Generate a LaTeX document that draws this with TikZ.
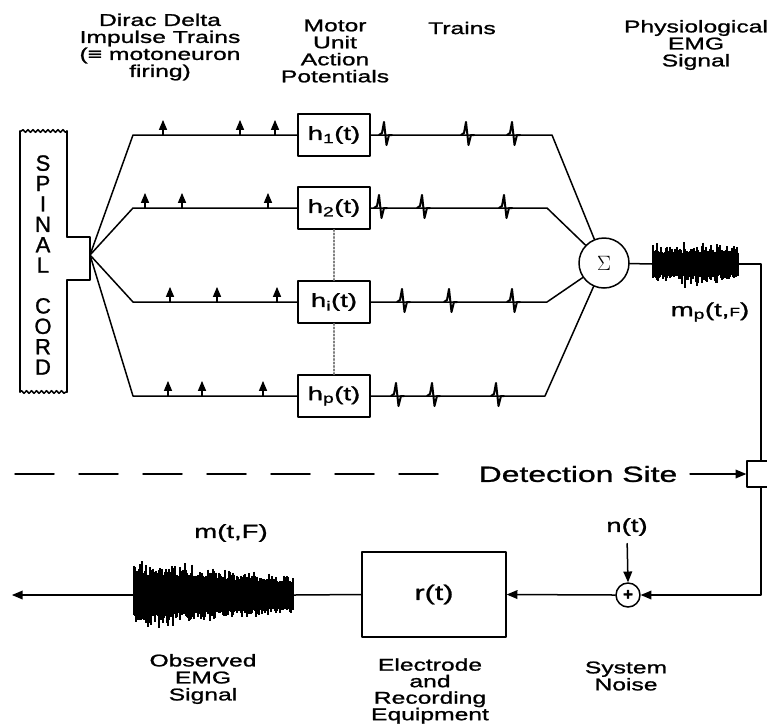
\documentclass[tikz,border=0pt]{standalone}
\usepackage{fontspec}
\setmainfont[FakeBold=1.2]{Liberation Sans}
\newfontfamily\lblfont[FakeStretch=1.45,FakeBold=1.2]{Liberation Sans}
\usepackage{tikz}
\usetikzlibrary{arrows,decorations.pathmorphing}

% one motor unit action potential on a train line
\newcommand{\muap}[2]{\draw[line width=2pt] (#1-6,#2) -- (#1-3,#2-2) -- (#1-1,#2-13) -- (#1+1.5,#2+10) -- (#1+4,#2) -- (#1+7,#2);}

\begin{document}
\begin{tikzpicture}[line cap=round,line join=round,>=triangle 45,x=1pt,y=-1pt,line width=1.5pt,
    lbl/.style={font=\lblfont\fontsize{17}{17}\selectfont,align=center,inner sep=0pt},
    filt/.style={draw,minimum width=72pt,minimum height=42pt,inner sep=0pt,font=\lblfont\fontsize{19}{19}\selectfont},
    burst/.style={minimum width=#1,inner sep=0pt},
    wavy/.style={decorate,decoration={snake,amplitude=1.3pt,segment length=5pt}},
    impulse/.style={->,line width=1.3pt}]
  \useasboundingbox (0,0) rectangle (767,724);
  \clip (0,0) rectangle (767,724);

  % spinal cord
  \draw (67,237) -- (67,131);
  \draw[wavy] (67,131) -- (20,131);
  \draw (20,131) -- (20,392);
  \draw[wavy] (20,392) -- (67,392);
  \draw (67,392) -- (67,280) -- (90,280) -- (90,237) -- (67,237);
  \node[align=center,font=\fontsize{22}{20.4}\selectfont] (cord) at (43,265) {S\\P\\I\\N\\A\\L\\[20.4pt]C\\O\\R\\D};
  \coordinate (fork) at (90,255);

  % summing point
  \node[draw,circle,minimum size=50pt,inner sep=0pt,font=\fontsize{20}{20}\selectfont] (sigma) at (604,263) {$\Sigma$};

  % the motor unit channels
  \foreach \n/\y/\e in {1/135/552, 2/208/547, i/302/547, p/396/545}{
    \node[filt] (h\n) at (334,\y) {h\textsubscript{\n}(t)};
    \draw (fork) -- (133,\y) -- (h\n.west);
    \draw (h\n.east) -- (\e,\y) -- (sigma);
  }
  \draw[dotted,gray,line width=1.5pt] (h2.south) -- (hi.north);
  \draw[dotted,gray,line width=1.5pt] (hi.south) -- (hp.north);

  % firing impulses
  \foreach \x/\y in {163/135,240/135,275/135, 145/208,182/208,268/208,
                     170/302,217/302,277/302, 168/396,202/396,263/396}
    \draw[impulse] (\x,\y) -- (\x,\y-15);

  % action potential trains
  \foreach \x/\y in {385/135,467/135,513/135, 380/208,423/208,505/208,
                     403/302,450/302,513/302, 397/396,433/396,497/396}
    \muap{\x}{\y};

  % physiological EMG signal
  \node[burst=85pt,minimum height=45pt] (phys) at (695.5,264) {};
  \pgfmathsetseed{11}
  \foreach \k in {0,1,...,85}{
    \pgfmathsetmacro\up{11+13*rnd*rnd}
    \pgfmathsetmacro\dn{11+14*rnd*rnd}
    \draw[line width=1.2pt,line cap=butt] (653+\k,264-\up) -- (653+\k,264+\dn);
  }
  \draw (sigma) -- (phys.west);
  \node[lbl,font=\lblfont\fontsize{19}{19}\selectfont] (mp) at (710,312) {m\textsubscript{p}(t,{\fontsize{12}{12}\selectfont F})};

  % detection site
  \node[draw,fill=white,minimum width=28pt,minimum height=26pt,inner sep=0pt] (det) at (761,474) {};
  \draw (phys.east) -| (det.north);
  \draw[dash pattern=on 39pt off 25pt] (15,474) -- (458,474);
  \node[lbl,font=\lblfont\fontsize{22}{22}\selectfont] (site) at (578,474) {Detection Site};
  \draw[->] ([xshift=12pt]site.east) -- (det.west);

  % noise and recording
  \node[draw,circle,minimum size=24pt,inner sep=0pt,font=\fontsize{17}{17}\selectfont\bfseries] (plus) at (628,595) {+};
  \node[lbl,font=\lblfont\fontsize{19}{19}\selectfont] (noise) at (627,527) {n(t)};
  \draw[->] (det.south) |- (plus.east);
  \draw[->,shorten <=7pt] (noise.south) -- (plus.north);
  \node[draw,minimum width=144pt,minimum height=85pt,inner sep=0pt,font=\lblfont\fontsize{21}{21}\selectfont] (rec) at (434,594.5) {r(t)};
  \draw[->] (plus.west) -- (rec.east);

  % observed EMG signal
  \node[burst=159pt,minimum height=75pt] (obs) at (213.5,595) {};
  \pgfmathsetseed{5}
  \foreach \k in {0,1,...,159}{
    \pgfmathsetmacro\env{34-14*\k/159}
    \pgfmathsetmacro\up{\env*(0.6+0.6*rnd*rnd)}
    \pgfmathsetmacro\dn{\env*(0.6+0.5*rnd*rnd)}
    \draw[line width=1.2pt,line cap=butt] (134+\k,595-\up) -- (134+\k,595+\dn);
  }
  \coordinate (out) at (12,595);
  \draw (rec.west) -- (obs.east);
  \draw[->] (obs.west) -- (out);
  \node[lbl,font=\lblfont\fontsize{19}{19}\selectfont] (m) at (231,533) {m(t,F)};

  % captions
  \node[lbl] (dirac) at (160,47) {Dirac Delta\\Impulse Trains\\(≡ motoneuron\\firing)};
  \node[lbl] (motor) at (335,51) {Motor\\Unit\\Action\\Potentials};
  \node[lbl] (trains) at (462,28) {Trains};
  \node[lbl] (physlbl) at (696,45) {Physiological\\EMG\\Signal};
  \node[lbl] (obslbl) at (203,679) {Observed\\EMG\\Signal};
  \node[lbl,font=\lblfont\fontsize{17}{16.5}\selectfont] (reclbl) at (430,691) {Electrode\\and\\Recording\\Equipment};
  \node[lbl] (syslbl) at (626,676) {System\\Noise};
\end{tikzpicture}
\end{document}
